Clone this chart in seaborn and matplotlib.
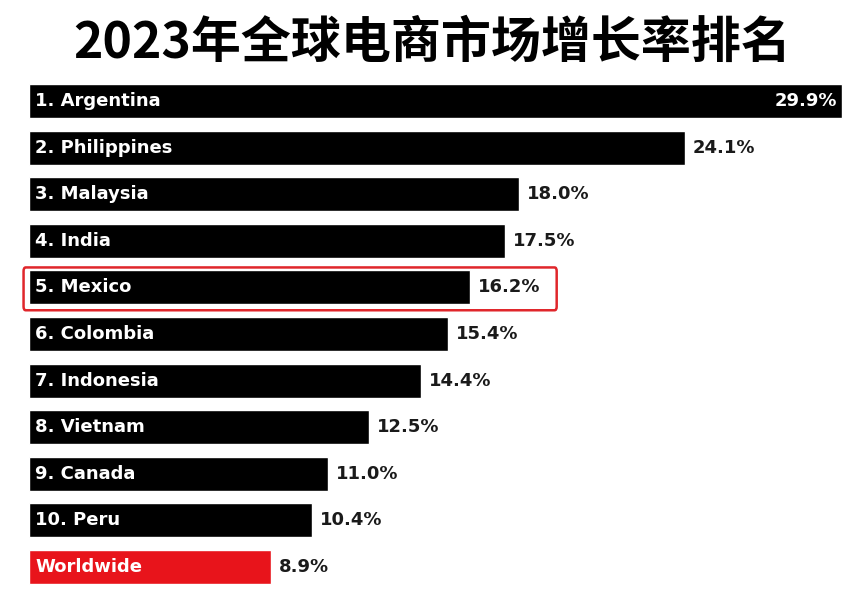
import matplotlib
matplotlib.use("Agg")
import matplotlib.pyplot as plt
import seaborn as sns
import pandas as pd
from matplotlib.patches import FancyBboxPatch

title = "2023年全球电商市场增长率排名"
labels = ["1. Argentina", "2. Philippines", "3. Malaysia", "4. India", "5. Mexico",
          "6. Colombia", "7. Indonesia", "8. Vietnam", "9. Canada", "10. Peru", "Worldwide"]
values = [29.9, 24.1, 18.0, 17.5, 16.2, 15.4, 14.4, 12.5, 11.0, 10.4, 8.9]
colors = ["#000000"] * 10 + ["#e8141b"]

df = pd.DataFrame({"label": labels, "value": values})

sns.set_theme(style="white")
plt.rcParams['font.family'] = ['DejaVu Sans']

fig = plt.figure(figsize=(8.65, 5.99), dpi=100)

ax = fig.add_axes([29/865, 1 - 590/599, 1 - 29/865, 512/599])
sns.barplot(data=df, y="label", x="value", hue="label", palette=colors,
            legend=False, orient="h", width=0.73, ax=ax, saturation=1)
ax.set_xlim(0, 836/27.2)
ax.set_ylim(len(labels) - 0.5, -0.5)
ax.axis("off")

for i, (lab, v) in enumerate(zip(labels, values)):
    ax.text(0.22, i, lab, color="white", fontsize=13, fontweight="bold",
            va="center", ha="left")
    if i == 0:
        ax.text(v - 0.2, i, f"{v:.1f}%", color="white", fontsize=13,
                fontweight="bold", va="center", ha="right")
    else:
        ax.text(v + 0.3, i, f"{v:.1f}%", color="#1a1a1a", fontsize=13,
                fontweight="bold", va="center", ha="left")

# highlight box around Mexico
mi = labels.index("5. Mexico")
box = FancyBboxPatch((-0.2, mi - 0.43), 19.6, 0.92,
                     boxstyle="round,pad=0,rounding_size=0.08",
                     fill=False, edgecolor="#e0262b", linewidth=1.8,
                     clip_on=False, transform=ax.transData)
ax.add_patch(box)

fig.text(0.5, 1 - 43/599, title, ha="center", va="center", fontsize=36,
         fontweight="heavy", family=["Noto Sans CJK SC", "DejaVu Sans"], color="black")

fig.savefig("out.png", dpi=100, facecolor="white")
